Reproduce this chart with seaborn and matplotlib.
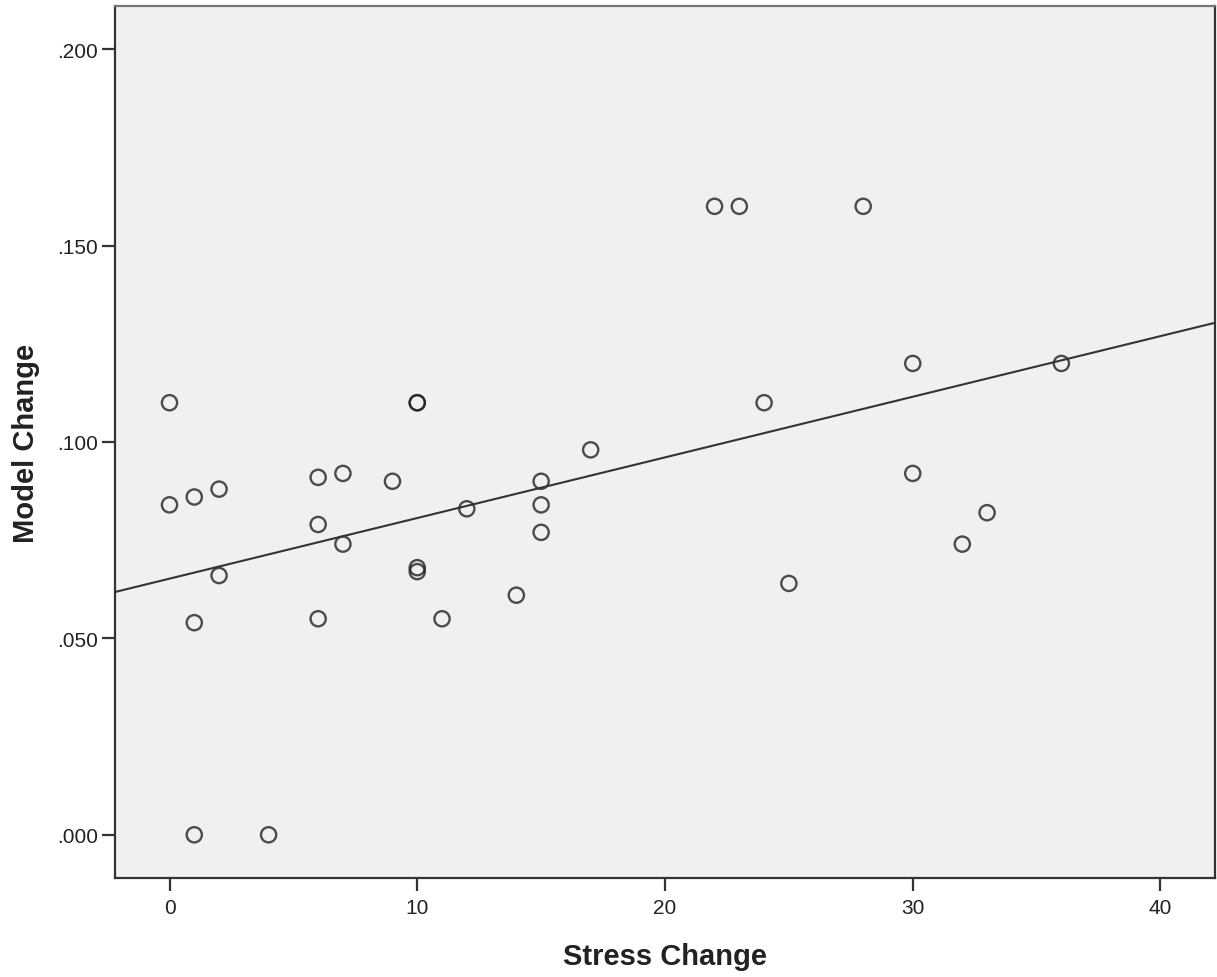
import numpy as np
import pandas as pd
import matplotlib
matplotlib.use("Agg")
import matplotlib.pyplot as plt
import seaborn as sns

stress_change = [0, 0, 1, 2, 2, 1, 1, 4, 6, 6, 6, 7, 7, 9, 10, 10, 10, 10, 11, 12,
                 14, 15, 15, 15, 17, 22, 23, 24, 25, 28, 30, 30, 32, 33, 36]
model_change = [0.110, 0.084, 0.086, 0.088, 0.066, 0.054, 0.000, 0.000, 0.091, 0.079,
                0.055, 0.092, 0.074, 0.090, 0.110, 0.110, 0.068, 0.067, 0.055, 0.083,
                0.061, 0.090, 0.084, 0.077, 0.098, 0.160, 0.160, 0.110, 0.064, 0.160,
                0.120, 0.092, 0.074, 0.082, 0.120]
x_ticks = [0, 10, 20, 30, 40]
y_ticks = [0.000, 0.050, 0.100, 0.150, 0.200]
y_tick_labels = [".000", ".050", ".100", ".150", ".200"]

df = pd.DataFrame({"Stress Change": stress_change, "Model Change": model_change})

sns.set_style("ticks")
plt.rcParams["font.family"] = ["Liberation Sans", "DejaVu Sans"]

fig = plt.figure(figsize=(12.17, 9.78), dpi=100)
ax = fig.add_axes([115 / 1217, 1 - 879 / 978, 1100 / 1217, 872 / 978])
ax.set_facecolor("#f0f0f0")
ax.set_xlim(-2.2, 42.2)
ax.set_ylim(-0.011, 0.211)

sns.regplot(data=df, x="Stress Change", y="Model Change", ax=ax, ci=None, truncate=False,
            scatter_kws=dict(s=120, facecolors="none", edgecolors="#222222", linewidths=1.7),
            line_kws=dict(color="#333333", linewidth=1.5))

ax.set_xticks(x_ticks)
ax.set_yticks(y_ticks)
ax.set_yticklabels(y_tick_labels)
ax.tick_params(axis="both", labelsize=15, length=9.5, width=1.6, color="#333333",
               labelcolor="#222222", pad=3)
ax.tick_params(axis="x", pad=5)
for side in ["left", "bottom", "right", "top"]:
    ax.spines[side].set_visible(True)
    ax.spines[side].set_color("#333333")
    ax.spines[side].set_linewidth(1.6)
ax.spines["top"].set_color("#777777")

ax.set_xlabel("Stress Change", fontsize=21, fontweight="bold", labelpad=18, color="#222222")
ax.set_ylabel("Model Change", fontsize=21, fontweight="bold", labelpad=12, color="#222222")

fig.savefig("out.png", dpi=100)
